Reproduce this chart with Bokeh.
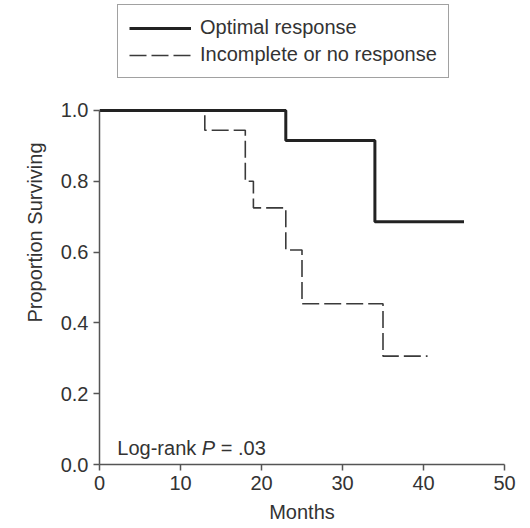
from bokeh.plotting import figure
from bokeh.models import (Range1d, FixedTicker, Legend, LegendItem, Label)
from bokeh.embed import file_html
from bokeh.resources import INLINE

# ---- data ----
optimal_months = [0, 23, 34, 45]
optimal_surv = [1.0, 0.915, 0.686, 0.686]

incomplete_months = [0, 13, 18, 19, 23, 25, 35, 40.5]
incomplete_surv = [1.0, 0.944, 0.80, 0.725, 0.606, 0.454, 0.306, 0.306]

x_ticks = [0, 10, 20, 30, 40, 50]
x_tick_labels = ["0", "10", "20", "30", "40", "50"]
y_ticks = [0.0, 0.2, 0.4, 0.6, 0.8, 1.0]
y_tick_labels = ["0.0", "0.2", "0.4", "0.6", "0.8", "1.0"]

series_labels = ["Optimal response", "Incomplete or no response"]
x_label = "Months"
y_label = "Proportion Surviving"
stat_parts = ["Log-rank", "P", "= .03"]

FONT = "Liberation Sans"
TXT = "#333333"
AX = "#555555"

p = figure(width=530, height=528, output_backend="svg", toolbar_location=None,
           x_range=Range1d(0, 50), y_range=Range1d(0, 1.3107),
           min_border_left=99, min_border_right=26,
           min_border_top=0, min_border_bottom=64)
p.outline_line_color = None
p.xgrid.visible = False
p.ygrid.visible = False
p.background_fill_color = "white"
p.border_fill_color = "white"

dashed = p.step(incomplete_months, incomplete_surv, mode="after",
                line_color="#3a3a3a", line_width=1.6, line_dash="17 5")
solid = p.step(optimal_months, optimal_surv, mode="after",
               line_color="#222222", line_width=3)

for ax, ticks, labels in ((p.xaxis[0], x_ticks, x_tick_labels),
                          (p.yaxis[0], y_ticks, y_tick_labels)):
    ax.ticker = FixedTicker(ticks=ticks)
    ax.major_label_overrides = {t: l for t, l in zip(ticks, labels)}
    ax.bounds = (ticks[0], ticks[-1])
    ax.minor_tick_line_color = None
    ax.major_tick_in = 0
    ax.major_tick_out = 6
    ax.axis_line_color = AX
    ax.axis_line_width = 1.5
    ax.major_tick_line_color = AX
    ax.major_tick_line_width = 1.5
    ax.major_label_text_font = FONT
    ax.major_label_text_font_size = "20px"
    ax.major_label_text_color = TXT
    ax.major_label_standoff = 5
    ax.axis_label_text_font = FONT
    ax.axis_label_text_font_size = "20px"
    ax.axis_label_text_font_style = "normal"
    ax.axis_label_text_color = TXT

p.xaxis.axis_label = x_label
p.yaxis.axis_label = y_label
p.xaxis.axis_label_standoff = 8
p.yaxis.axis_label_standoff = 12

legend = Legend(items=[LegendItem(label=series_labels[0], renderers=[solid]),
                       LegendItem(label=series_labels[1], renderers=[dashed])],
                location=(18, 386))
legend.border_line_color = "#444444"
legend.border_line_width = 1.5
legend.background_fill_color = "white"
legend.background_fill_alpha = 1
legend.padding = 11
legend.spacing = 4
legend.margin = 0
legend.glyph_width = 62
legend.glyph_height = 20
legend.label_height = 20
legend.label_standoff = 9
legend.label_text_font = FONT
legend.label_text_font_size = "20px"
legend.label_text_color = TXT
p.add_layout(legend)

sx, sy = 2.2, 0.048
offs = [0, 84.5, 103.5]
styles = ["normal", "italic", "normal"]
for part, off, st in zip(stat_parts, offs, styles):
    p.add_layout(Label(x=sx, y=sy, x_offset=off, text=part, text_font=FONT,
                       text_font_size="20px", text_color=TXT,
                       text_font_style=st, text_baseline="alphabetic"))

open("out.html", "w").write(file_html(p, INLINE))
